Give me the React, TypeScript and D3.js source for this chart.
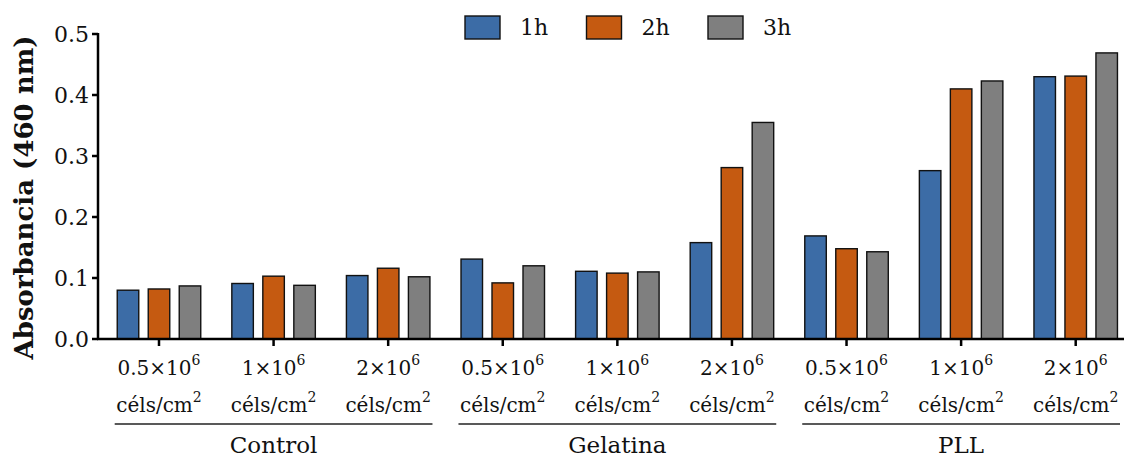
import React from "react";
import * as d3 from "d3";

const groups = ["Control", "Gelatina", "PLL"];
const densities = ["0.5", "1", "2"];
const series = ["1h", "2h", "3h"];
const colors = ["#3C6CA6", "#C55A11", "#7F7F7F"];

const values1h = [0.08, 0.091, 0.104, 0.131, 0.111, 0.158, 0.169, 0.276, 0.43];
const values2h = [0.082, 0.103, 0.116, 0.092, 0.108, 0.281, 0.148, 0.41, 0.431];
const values3h = [0.087, 0.088, 0.102, 0.12, 0.11, 0.355, 0.143, 0.423, 0.469];
const yTicks = [0, 0.1, 0.2, 0.3, 0.4, 0.5];

const W = 1124;
const H = 461;
const FONT = "'DejaVu Serif', 'Liberation Serif', serif";

export default function App() {
  const cats = groups.flatMap((g) => densities.map((d) => `${g}|${d}`));
  const allValues = [values1h, values2h, values3h];

  const axisLeft = 98;
  const axisBottom = 339;
  const y = d3.scaleLinear().domain([0, 0.5]).range([axisBottom, 34]);
  const x = d3
    .scaleBand<string>()
    .domain(cats)
    .range([101.7, 1133])
    .paddingInner(0)
    .paddingOuter(0);
  const step = x.step();
  const inner = d3
    .scaleBand<string>()
    .domain(series)
    .range([-41.75, 41.75])
    .paddingInner(0.306);

  return (
    <svg width={W} height={H} style={{ display: "block", position: "absolute", left: 0, top: 0 }}>
      <rect width={W} height={H} fill="#fff" />
      {/* bars */}
      {cats.map((c, i) => {
        const cx = (x(c) as number) + step / 2;
        return series.map((s, k) => {
          const v = allValues[k][i];
          return (
            <rect
              key={c + s}
              x={cx + (inner(s) as number)}
              y={y(v)}
              width={inner.bandwidth()}
              height={axisBottom - y(v)}
              fill={colors[k]}
              stroke="#111"
              strokeWidth={1.4}
            />
          );
        });
      })}
      {/* y axis */}
      <line x1={axisLeft} x2={axisLeft} y1={y(0.5) - 1} y2={axisBottom + 1} stroke="#000" strokeWidth={2.5} />
      {yTicks.map((t) => (
        <g key={t}>
          <line x1={axisLeft - 6} x2={axisLeft} y1={y(t)} y2={y(t)} stroke="#000" strokeWidth={2.5} />
          <text
            x={axisLeft - 9}
            y={y(t)}
            dy="0.36em"
            textAnchor="end"
            fontFamily={FONT}
            fontSize={22}
            fill="#111"
          >
            {d3.format(".1f")(t)}
          </text>
        </g>
      ))}
      <text
        transform={`translate(33,${(y(0.5) + axisBottom) / 2 + 11}) rotate(-90)`}
        textAnchor="middle"
        fontFamily={FONT}
        fontWeight="bold"
        fontSize={26}
        fill="#111"
      >
        Absorbancia (460 nm)
      </text>
      {/* x axis */}
      <line x1={axisLeft - 1} x2={W} y1={axisBottom} y2={axisBottom} stroke="#000" strokeWidth={2.5} />
      {cats.map((c) => {
        const cx = (x(c) as number) + step / 2;
        const d = c.split("|")[1];
        return (
          <g key={c}>
            <line x1={cx} x2={cx} y1={axisBottom} y2={axisBottom + 7} stroke="#000" strokeWidth={2.5} />
            <text x={cx} y={375} textAnchor="middle" fontFamily={FONT} fontSize={20} fill="#111">
              {d}×10
              <tspan dy={-10} fontSize={14}>6</tspan>
            </text>
            <text x={cx} y={412} textAnchor="middle" fontFamily={FONT} fontSize={20} fill="#111">
              céls/cm
              <tspan dy={-10} fontSize={14}>2</tspan>
            </text>
          </g>
        );
      })}
      {/* group brackets */}
      {groups.map((g) => {
        const first = x(`${g}|${densities[0]}`) as number;
        const last = (x(`${g}|${densities[densities.length - 1]}`) as number) + step;
        const x1 = first + 13;
        const x2 = Math.min(last - 13, W - 2);
        return (
          <g key={g}>
            <line x1={x1} x2={x2} y1={424} y2={424} stroke="#222" strokeWidth={1.3} />
            <text
              x={(first + last) / 2}
              y={453}
              textAnchor="middle"
              fontFamily={FONT}
              fontSize={23}
              fill="#111"
            >
              {g}
            </text>
          </g>
        );
      })}
      {/* legend */}
      {series.map((s, k) => {
        const lx = 465 + k * 121.5;
        return (
          <g key={s}>
            <rect x={lx} y={16} width={35} height={23} fill={colors[k]} stroke="#111" strokeWidth={1.4} />
            <text x={lx + 55} y={35} fontFamily={FONT} fontSize={22} fill="#111">
              {s}
            </text>
          </g>
        );
      })}
    </svg>
  );
}
